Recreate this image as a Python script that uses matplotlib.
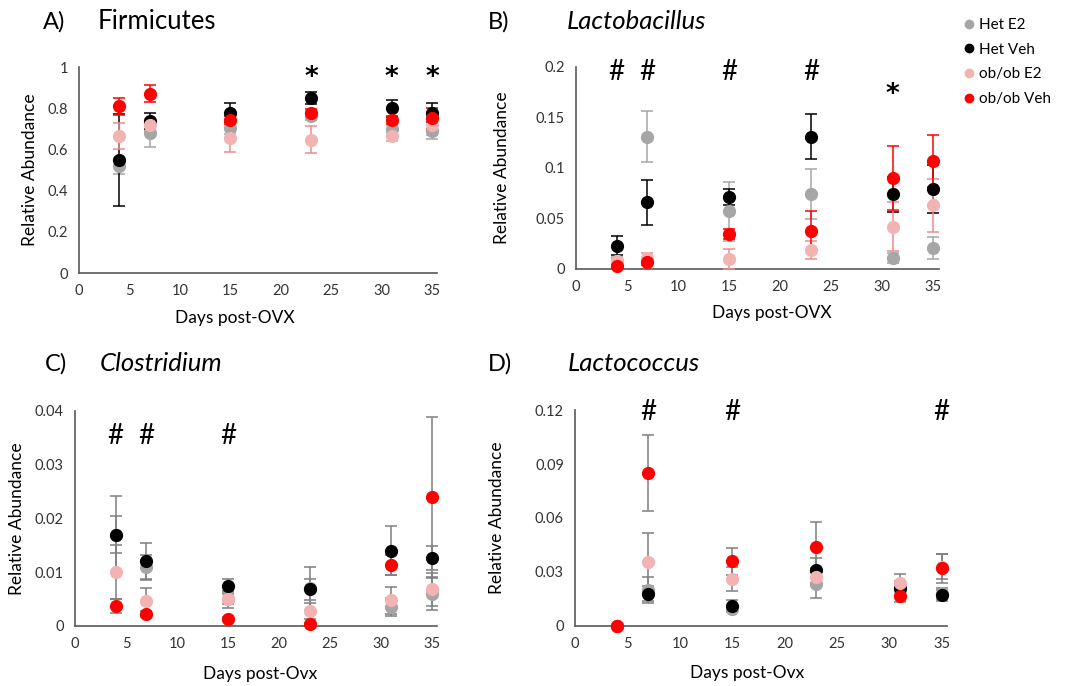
import matplotlib
matplotlib.use("Agg")
import matplotlib.pyplot as plt
from matplotlib.lines import Line2D

plt.rcParams['font.family'] = ['Lato', 'DejaVu Sans']

# sampling days
days = [4, 7, 15, 23, 31, 35]
groups = ["Het E2", "Het Veh", "ob/ob E2", "ob/ob Veh"]
colors = ["#A6A6A6", "#000000", "#F2B3B3", "#FF0000"]

# A) Firmicutes
firm_het_e2 = [0.52, 0.68, 0.705, 0.765, 0.70, 0.69]
firm_het_e2_err = [0.04, 0.07, 0.03, 0.02, 0.02, 0.04]
firm_het_veh = [0.55, 0.74, 0.78, 0.85, 0.80, 0.78]
firm_het_veh_err = [0.225, 0.04, 0.045, 0.03, 0.04, 0.045]
firm_ob_e2 = [0.665, 0.72, 0.655, 0.648, 0.667, 0.72]
firm_ob_e2_err = [0.063, 0.03, 0.065, 0.065, 0.025, 0.05]
firm_ob_veh = [0.81, 0.872, 0.745, 0.777, 0.743, 0.751]
firm_ob_veh_err = [0.04, 0.04, 0.02, 0.02, 0.02, 0.05]

# B) Lactobacillus
lacb_het_e2 = [0.008, 0.131, 0.057, 0.074, 0.011, 0.021]
lacb_het_e2_err = [0.004, 0.025, 0.029, 0.025, 0.005, 0.011]
lacb_het_veh = [0.023, 0.066, 0.071, 0.131, 0.074, 0.079]
lacb_het_veh_err = [0.0095, 0.0225, 0.008, 0.022, 0.0175, 0.024]
lacb_ob_e2 = [0.008, 0.011, 0.010, 0.019, 0.042, 0.063]
lacb_ob_e2_err = [0.003, 0.005, 0.010, 0.009, 0.024, 0.026]
lacb_ob_veh = [0.003, 0.007, 0.035, 0.038, 0.090, 0.107]
lacb_ob_veh_err = [0.002, 0.003, 0.005, 0.019, 0.032, 0.026]

# C) Clostridium
clos_het_e2 = [0.017, 0.011, 0.005, 0.007, 0.0035, 0.006]
clos_het_e2_err = [0.0035, 0.0022, 0.0016, 0.004, 0.0017, 0.003]
clos_het_veh = [0.017, 0.012, 0.0075, 0.0068, 0.014, 0.0126]
clos_het_veh_err = [0.0071, 0.0034, 0.0012, 0.002, 0.0046, 0.0022]
clos_ob_e2 = [0.010, 0.0046, 0.005, 0.0028, 0.0048, 0.0068]
clos_ob_e2_err = [0.005, 0.0024, 0.001, 0.0015, 0.0025, 0.003]
clos_ob_veh = [0.0037, 0.0022, 0.0013, 0.0004, 0.0113, 0.024]
clos_ob_veh_err = [0.0013, 0.0005, 0.0003, 0.0002, 0.0019, 0.0149]

# D) Lactococcus
lacc_het_e2 = [0.0, 0.020, 0.0095, 0.0235, 0.020, 0.018]
lacc_het_e2_err = [0.0, 0.007, 0.002, 0.008, 0.004, 0.003]
lacc_het_veh = [0.0, 0.018, 0.011, 0.031, 0.021, 0.017]
lacc_het_veh_err = [0.0, 0.004, 0.0035, 0.007, 0.004, 0.003]
lacc_ob_e2 = [0.0, 0.0355, 0.026, 0.027, 0.024, 0.033]
lacc_ob_e2_err = [0.0, 0.016, 0.0067, 0.005, 0.005, 0.007]
lacc_ob_veh = [0.0, 0.085, 0.036, 0.044, 0.0165, 0.032]
lacc_ob_veh_err = [0.0, 0.021, 0.0074, 0.014, 0.003, 0.008]

panels = [
    dict(letter="A)", name="Firmicutes", italic=False,
         pos=[0.0732, 0.602, 0.332, 0.300],
         series=[(firm_het_e2, firm_het_e2_err), (firm_het_veh, firm_het_veh_err),
                 (firm_ob_e2, firm_ob_e2_err), (firm_ob_veh, firm_ob_veh_err)],
         ecolors=["#A6A6A6", "#000000", "#F08C8C", "#FF0000"],
         ymax=1.0, ystep=0.2, yticklabels=["0", "0.2", "0.4", "0.6", "0.8", "1"],
         xlabel="Days post-OVX", xlab=(0.436, -0.218), ylab=-0.137,
         marks=[(23, 0.983, "*"), (31, 0.983, "*"), (35, 0.983, "*")],
         title_y=0.968, letter_x=0.040, name_x=0.0908),
    dict(letter="B)", name="Lactobacillus", italic=True,
         pos=[0.5338, 0.6079, 0.336, 0.2945],
         series=[(lacb_het_e2, lacb_het_e2_err), (lacb_het_veh, lacb_het_veh_err),
                 (lacb_ob_e2, lacb_ob_e2_err), (lacb_ob_veh, lacb_ob_veh_err)],
         ecolors=["#A6A6A6", "#000000", "#F08C8C", "#FF0000"],
         ymax=0.2, ystep=0.05, yticklabels=["0", "0.05", "0.1", "0.15", "0.2"],
         xlabel="Days post-OVX", xlab=(0.54, -0.218), ylab=-0.204,
         marks=[(4, 0.1967, "#"), (7, 0.1967, "#"), (15, 0.1967, "#"),
                (23, 0.1967, "#"), (31, 0.1795, "*")],
         title_y=0.968, letter_x=0.452, name_x=0.5255),
    dict(letter="C)", name="Clostridium", italic=True,
         pos=[0.0695, 0.0875, 0.3355, 0.3134],
         series=[(clos_het_e2, clos_het_e2_err), (clos_het_veh, clos_het_veh_err),
                 (clos_ob_e2, clos_ob_e2_err), (clos_ob_veh, clos_ob_veh_err)],
         ecolors=["#7F7F7F"] * 4,
         ymax=0.04, ystep=0.01, yticklabels=["0", "0.01", "0.02", "0.03", "0.04"],
         xlabel="Days post-Ovx", xlab=(0.511, -0.223), ylab=-0.16,
         marks=[(4, 0.0358, "#"), (7, 0.0358, "#"), (15, 0.0358, "#")],
         title_y=0.4694, letter_x=0.0417, name_x=0.0927),
    dict(letter="D)", name="Lactococcus", italic=True,
         pos=[0.5329, 0.0875, 0.3448, 0.3148],
         series=[(lacc_het_e2, lacc_het_e2_err), (lacc_het_veh, lacc_het_veh_err),
                 (lacc_ob_e2, lacc_ob_e2_err), (lacc_ob_veh, lacc_ob_veh_err)],
         ecolors=["#7F7F7F"] * 4,
         ymax=0.12, ystep=0.03, yticklabels=["0", "0.03", "0.06", "0.09", "0.12"],
         xlabel="Days post-Ovx", xlab=(0.462, -0.218), ylab=-0.21,
         marks=[(7, 0.12, "#"), (15, 0.12, "#"), (35, 0.12, "#")],
         title_y=0.4694, letter_x=0.452, name_x=0.5264),
]

fig = plt.figure(figsize=(10.79, 6.86), dpi=100)

for p in panels:
    ax = fig.add_axes(p["pos"])
    for (vals, errs), c, ec in zip(p["series"], colors, p["ecolors"]):
        ax.errorbar(days, vals, yerr=errs, fmt="o", color=c, ecolor=ec,
                    markersize=8.5, elinewidth=1.1, capsize=4, capthick=1.1,
                    clip_on=False, zorder=3)
    ax.set_xlim(0, 35.5)
    ax.set_ylim(0, p["ymax"])
    ax.set_xticks(range(0, 36, 5))
    nt = len(p["yticklabels"])
    ax.set_yticks([i * p["ystep"] for i in range(nt)])
    ax.set_yticklabels(p["yticklabels"])
    ax.tick_params(length=0, labelsize=10.5, colors="#333333", pad=8)
    for s in ["top", "right"]:
        ax.spines[s].set_visible(False)
    for s in ["left", "bottom"]:
        ax.spines[s].set_color("#595959")
        ax.spines[s].set_linewidth(1.2)
    ax.set_xlabel(p["xlabel"], fontsize=12.5, va="center")
    ax.xaxis.set_label_coords(*p["xlab"])
    ax.set_ylabel("Relative Abundance", fontsize=12.5, va="center")
    ax.yaxis.set_label_coords(p["ylab"], 0.5)
    for x, y, m in p["marks"]:
        if m == "*":
            ax.annotate(m, (x, y), xytext=(0, -5.5), textcoords="offset points",
                        ha="center", va="center", fontsize=19,
                        fontweight="bold", family="DejaVu Sans")
        else:
            ax.annotate(m, (x, y), xytext=(0, -1.5), textcoords="offset points",
                        ha="center", va="center", fontsize=20)
    fig.text(p["letter_x"], p["title_y"], p["letter"], fontsize=17, va="center")
    fig.text(p["name_x"], p["title_y"], p["name"], va="center", fontsize=18.5,
             style="italic" if p["italic"] else "normal")

handles = [Line2D([], [], marker="o", linestyle="none", color=c, markersize=6)
           for c in colors]
fig.legend(handles, groups, loc="upper left", bbox_to_anchor=(0.878, 0.994),
           frameon=False, fontsize=11, handletextpad=0.2, labelspacing=0.7,
           handlelength=1.0)

fig.savefig("out.png", dpi=100)
